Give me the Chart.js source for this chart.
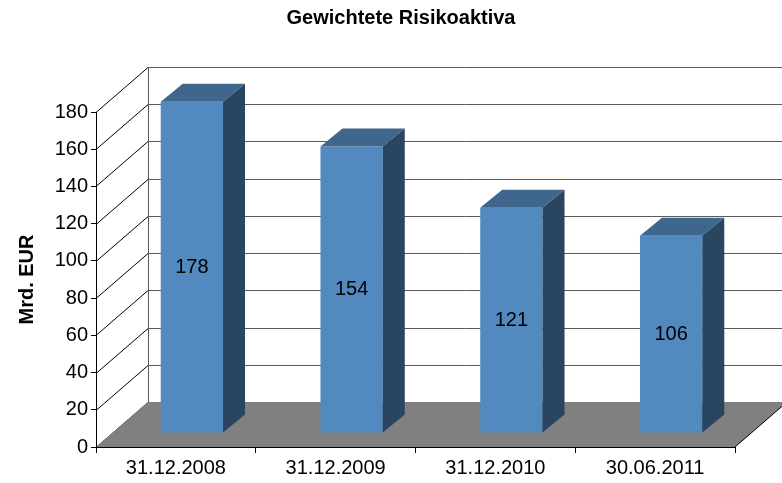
<!DOCTYPE html>
<html><head><meta charset="utf-8">
<script src="https://cdn.jsdelivr.net/npm/chart.js@4/dist/chart.umd.min.js"></script>
<style>html,body{margin:0;padding:0;background:#fff}#wrap{width:782px;height:483px;position:relative}</style>
</head><body><div id="wrap"><canvas id="c"></canvas></div>
<script>
const categories = ['31.12.2008', '31.12.2009', '31.12.2010', '30.06.2011'];
const values = [178, 154, 121, 106];
const yTicks = [0, 20, 40, 60, 80, 100, 120, 140, 160, 180];
const chartTitle = 'Gewichtete Risikoaktiva';
const yTitle = 'Mrd. EUR';

const FONT = "'Liberation Sans', Arial, sans-serif";
const WALL = {dx: 52, dy: -45};
const BAR_OFF = {dx: 16, dy: -14};
const BAR_DEPTH = {dx: 22, dy: -18};
const COL_FRONT = '#5289be', COL_TOP = '#3f678e', COL_SIDE = '#2a4560';

const scene3d = {
  id: 'scene3d',
  beforeDraw(chart) {
    const ctx = chart.ctx, {left, right} = chart.chartArea, y = chart.scales.y;
    ctx.save();
    ctx.lineWidth = 1;
    const y0 = y.getPixelForValue(yTicks[0]);
    const yTop = y.getPixelForValue(yTicks[yTicks.length - 1]);
    yTicks.forEach(v => {
      const fy = Math.round(y.getPixelForValue(v)) + 0.5;
      ctx.strokeStyle = '#5a5a5a';
      ctx.beginPath();
      ctx.moveTo(left + WALL.dx, fy + WALL.dy);
      ctx.lineTo(right + WALL.dx + 10, fy + WALL.dy);
      ctx.stroke();
      ctx.strokeStyle = '#000';
      ctx.beginPath();
      ctx.moveTo(left, fy);
      ctx.lineTo(left + WALL.dx, fy + WALL.dy);
      ctx.stroke();
    });
    ctx.strokeStyle = '#5a5a5a';
    ctx.beginPath();
    ctx.moveTo(left + WALL.dx + 0.5, y0 + WALL.dy);
    ctx.lineTo(left + WALL.dx + 0.5, yTop + WALL.dy);
    ctx.stroke();
    ctx.fillStyle = '#808080';
    ctx.beginPath();
    ctx.moveTo(left, y0);
    ctx.lineTo(right, y0);
    ctx.lineTo(right + WALL.dx, y0 + WALL.dy);
    ctx.lineTo(left + WALL.dx, y0 + WALL.dy);
    ctx.closePath();
    ctx.fill();
    ctx.strokeStyle = '#000';
    ctx.beginPath();
    ctx.moveTo(right, y0);
    ctx.lineTo(right + WALL.dx, y0 + WALL.dy);
    ctx.stroke();
    ctx.restore();
  },
  beforeDatasetsDraw(chart) {
    chart.ctx.save();
    chart.ctx.translate(BAR_OFF.dx, BAR_OFF.dy);
  },
  afterDatasetsDraw(chart) {
    const ctx = chart.ctx;
    const meta = chart.getDatasetMeta(0);
    meta.data.forEach((bar, i) => {
      const l = bar.x - bar.width / 2, r = bar.x + bar.width / 2, t = bar.y, b = bar.base;
      ctx.fillStyle = COL_TOP;
      ctx.beginPath();
      ctx.moveTo(l, t); ctx.lineTo(r, t);
      ctx.lineTo(r + BAR_DEPTH.dx, t + BAR_DEPTH.dy);
      ctx.lineTo(l + BAR_DEPTH.dx, t + BAR_DEPTH.dy);
      ctx.closePath(); ctx.fill();
      ctx.fillStyle = COL_SIDE;
      ctx.beginPath();
      ctx.moveTo(r, t); ctx.lineTo(r + BAR_DEPTH.dx, t + BAR_DEPTH.dy);
      ctx.lineTo(r + BAR_DEPTH.dx, b + BAR_DEPTH.dy);
      ctx.lineTo(r, b);
      ctx.closePath(); ctx.fill();
      ctx.fillStyle = '#000';
      ctx.font = '20px ' + FONT;
      ctx.textAlign = 'center';
      ctx.textBaseline = 'middle';
      ctx.fillText(String(values[i]), bar.x, (t + b) / 2);
    });
    ctx.restore();
  }
};

new Chart(document.getElementById('c'), {
  type: 'bar',
  data: {
    labels: categories,
    datasets: [{
      data: values,
      backgroundColor: COL_FRONT,
      borderWidth: 0,
      barPercentage: 0.39,
      categoryPercentage: 1,
      clip: false,
      yAxisID: 'y'
    }]
  },
  options: {
    responsive: true,
    maintainAspectRatio: false,
    animation: false,
    events: [],
    layout: {padding: {left: 20, right: 0, top: 0, bottom: 0}},
    plugins: {
      legend: {display: false},
      tooltip: {enabled: false},
      title: {
        display: true,
        text: chartTitle,
        color: '#000',
        font: {family: FONT, size: 20, weight: 'bold'},
        padding: {top: 6, bottom: 82}
      }
    },
    scales: {
      x: {
        grid: {display: true, drawOnChartArea: false, drawTicks: true, tickLength: 6, color: '#000'},
        border: {display: true, color: '#000', width: 1},
        ticks: {color: '#000', font: {family: FONT, size: 20}, padding: 3, maxRotation: 0},
        afterFit(s) { s.height = 36; }
      },
      y: {
        min: yTicks[0],
        max: yTicks[yTicks.length - 1],
        afterBuildTicks(s) { s.ticks = yTicks.map(v => ({value: v})); },
        grid: {display: true, drawOnChartArea: false, drawTicks: true, tickLength: 5, color: '#000'},
        border: {display: true, color: '#000', width: 1},
        ticks: {color: '#000', font: {family: FONT, size: 20}, padding: 3},
        title: {
          display: true,
          text: yTitle,
          color: '#000',
          font: {family: FONT, size: 20, weight: 'bold'},
          padding: {top: -5, bottom: 0}
        },
        afterFit(s) { s.width = 76; }
      },
      yPad: {
        type: 'linear',
        position: 'right',
        display: true,
        grid: {display: false, drawTicks: false},
        border: {display: false},
        ticks: {display: false},
        afterFit(s) { s.width = 47; }
      }
    }
  },
  plugins: [scene3d]
});
</script>
</body></html>
